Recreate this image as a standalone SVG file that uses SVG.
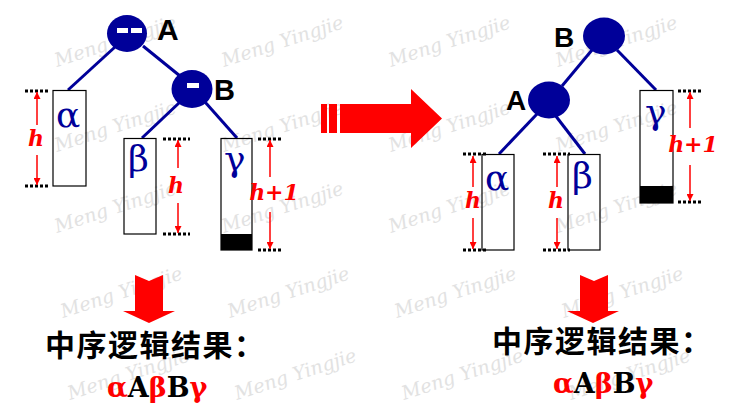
<svg xmlns="http://www.w3.org/2000/svg" width="742" height="414" viewBox="0 0 742 414">
<defs>
<marker id="ah" viewBox="0 0 10 10" refX="10" refY="5" markerUnits="userSpaceOnUse" markerWidth="7" markerHeight="7" orient="auto">
<path d="M0,0 L10,5 L0,10 z" fill="#ff0000"/>
</marker>
<style>
.wm{font-family:"DejaVu Serif","Liberation Serif",serif;font-style:italic;font-size:19px;fill:#e2e2e2}
.node{fill:#000099}
.edge{stroke:#000099;stroke-width:3;fill:none}
.box{fill:none;stroke:#000;stroke-width:1.2}
.dot{stroke:#000;stroke-width:3;stroke-dasharray:3 2;fill:none}
.harr{stroke:#ff0000;stroke-width:1.5;fill:none;marker-end:url(#ah)}
.lbl{font-family:"Liberation Sans",Arial,sans-serif;font-weight:bold;fill:#000}
.greek{font-family:"DejaVu Serif","Liberation Serif",serif;font-size:36px;fill:#000099}
.h{font-family:"DejaVu Serif","Liberation Serif",serif;font-style:italic;font-weight:bold;font-size:22px;fill:#ff0000}
.cn{font-family:"Noto Sans CJK SC",sans-serif;font-weight:bold;font-size:30px;fill:#000;letter-spacing:1.5px}
.seq{font-family:"DejaVu Serif","Liberation Serif",serif;font-weight:bold;font-size:27px}
.red{fill:#ff0000}
</style>
</defs>
<rect width="742" height="414" fill="#ffffff"/>

<g id="watermark">
<text class="wm" transform="translate(57,67) rotate(-18)">Meng Yingjie</text>
<text class="wm" transform="translate(224,67) rotate(-18)">Meng Yingjie</text>
<text class="wm" transform="translate(391,67) rotate(-18)">Meng Yingjie</text>
<text class="wm" transform="translate(558,67) rotate(-18)">Meng Yingjie</text>
<text class="wm" transform="translate(57,152) rotate(-18)">Meng Yingjie</text>
<text class="wm" transform="translate(224,152) rotate(-18)">Meng Yingjie</text>
<text class="wm" transform="translate(391,152) rotate(-18)">Meng Yingjie</text>
<text class="wm" transform="translate(558,152) rotate(-18)">Meng Yingjie</text>
<text class="wm" transform="translate(57,233) rotate(-18)">Meng Yingjie</text>
<text class="wm" transform="translate(224,233) rotate(-18)">Meng Yingjie</text>
<text class="wm" transform="translate(391,233) rotate(-18)">Meng Yingjie</text>
<text class="wm" transform="translate(558,233) rotate(-18)">Meng Yingjie</text>
<text class="wm" transform="translate(63,318) rotate(-18)">Meng Yingjie</text>
<text class="wm" transform="translate(230,318) rotate(-18)">Meng Yingjie</text>
<text class="wm" transform="translate(397,318) rotate(-18)">Meng Yingjie</text>
<text class="wm" transform="translate(564,318) rotate(-18)">Meng Yingjie</text>
<text class="wm" transform="translate(70,400) rotate(-18)">Meng Yingjie</text>
<text class="wm" transform="translate(237,400) rotate(-18)">Meng Yingjie</text>
<text class="wm" transform="translate(404,400) rotate(-18)">Meng Yingjie</text>
<text class="wm" transform="translate(571,400) rotate(-18)">Meng Yingjie</text>
</g>

<g id="connectors">
<line class="edge" x1="115" y1="47" x2="68" y2="90"/>
<line class="edge" x1="143" y1="46" x2="180" y2="76"/>
<line class="edge" x1="180" y1="102" x2="142" y2="138"/>
<line class="edge" x1="205" y1="102" x2="237" y2="138"/>
<line class="edge" x1="592" y1="50" x2="562" y2="86"/>
<line class="edge" x1="617" y1="50" x2="656" y2="90"/>
<line class="edge" x1="537" y1="114" x2="499" y2="154"/>
<line class="edge" x1="555" y1="115" x2="585" y2="154"/>
</g>

<!-- Left tree -->
<g id="left-A">
<ellipse class="node" cx="127" cy="33.5" rx="20" ry="18.5"/>
<rect x="117" y="28" width="11" height="5" fill="#fff"/>
<rect x="131" y="28" width="11" height="5" fill="#fff"/>
<text class="lbl" x="157" y="40" font-size="30">A</text>
</g>
<g id="left-B">
<ellipse class="node" cx="192" cy="89" rx="20.5" ry="19"/>
<rect x="187" y="83" width="12" height="5" fill="#fff"/>
<text class="lbl" x="214" y="100" font-size="29">B</text>
</g>
<g id="left-alpha">
<rect class="box" x="53" y="90.5" width="33" height="95.5"/>
<text class="greek" x="56" y="127">α</text>
<line class="dot" x1="25" y1="91" x2="50" y2="91"/>
<line class="dot" x1="25" y1="186" x2="50" y2="186"/>
<line class="harr" x1="37" y1="125" x2="37" y2="92"/>
<line class="harr" x1="37" y1="155" x2="37" y2="185"/>
<text class="h" x="36" y="146" text-anchor="middle">h</text>
</g>
<g id="left-beta">
<rect class="box" x="124" y="138.5" width="32" height="95.5"/>
<text class="greek" x="128" y="171">β</text>
<line class="dot" x1="163" y1="139" x2="190" y2="139"/>
<line class="dot" x1="163" y1="234" x2="190" y2="234"/>
<line class="harr" x1="178" y1="168" x2="178" y2="140"/>
<line class="harr" x1="178" y1="203" x2="178" y2="233"/>
<text class="h" x="176" y="193" text-anchor="middle">h</text>
</g>
<g id="left-gamma">
<rect class="box" x="221" y="138.5" width="31" height="111.5"/>
<rect x="221" y="234" width="31" height="16" fill="#000"/>
<text class="greek" x="224" y="171">γ</text>
<line class="dot" x1="258" y1="139" x2="283" y2="139"/>
<line class="dot" x1="258" y1="250" x2="283" y2="250"/>
<line class="harr" x1="270" y1="177" x2="270" y2="140"/>
<line class="harr" x1="270" y1="212" x2="270" y2="249"/>
<text class="h" x="274" y="200" text-anchor="middle">h+1</text>
</g>

<!-- Transform arrow -->
<g id="transform-arrow" fill="#ff0000">
<rect x="321" y="104" width="6" height="29"/>
<rect x="329" y="104" width="8" height="29"/>
<path d="M340,104 L411,104 L411,89 L442,118.5 L411,148 L411,133 L340,133 Z"/>
</g>

<!-- Right tree -->
<g id="right-B">
<ellipse class="node" cx="604" cy="36" rx="21" ry="18.5"/>
<text class="lbl" x="554" y="47" font-size="28">B</text>
</g>
<g id="right-A">
<ellipse class="node" cx="549" cy="100" rx="21" ry="18.5"/>
<text class="lbl" x="506" y="110" font-size="28">A</text>
</g>
<g id="right-alpha">
<rect class="box" x="482" y="154.5" width="32" height="95.5"/>
<text class="greek" x="485" y="190">α</text>
<line class="dot" x1="463" y1="154" x2="488" y2="154"/>
<line class="dot" x1="463" y1="250" x2="488" y2="250"/>
<line class="harr" x1="473" y1="187" x2="473" y2="156"/>
<line class="harr" x1="473" y1="218" x2="473" y2="249"/>
<text class="h" x="473" y="208" text-anchor="middle">h</text>
</g>
<g id="right-beta">
<rect class="box" x="568" y="154.5" width="32" height="95.5"/>
<text class="greek" x="572" y="188">β</text>
<line class="dot" x1="543" y1="154" x2="570" y2="154"/>
<line class="dot" x1="543" y1="250" x2="570" y2="250"/>
<line class="harr" x1="557" y1="187" x2="557" y2="156"/>
<line class="harr" x1="557" y1="218" x2="557" y2="249"/>
<text class="h" x="556" y="208" text-anchor="middle">h</text>
</g>
<g id="right-gamma">
<rect class="box" x="640" y="90.5" width="33" height="112.5"/>
<rect x="640" y="186" width="33" height="17" fill="#000"/>
<text class="greek" x="645" y="124">γ</text>
<line class="dot" x1="678" y1="91" x2="703" y2="91"/>
<line class="dot" x1="678" y1="202" x2="703" y2="202"/>
<line class="harr" x1="690" y1="128" x2="690" y2="92"/>
<line class="harr" x1="690" y1="165" x2="690" y2="201"/>
<text class="h" x="693" y="152" text-anchor="middle">h+1</text>
</g>

<!-- Bottom -->
<g id="left-result">
<path d="M135,275 L149,281 L163,275 L163,311 L175,311 L149,323 L123,311 L135,311 Z" fill="#ff0000"/>
<text class="cn" x="45" y="356">中序逻辑结果：</text>
<text class="seq" x="107" y="397"><tspan class="red">α</tspan>A<tspan class="red">β</tspan>B<tspan class="red">γ</tspan></text>
</g>
<g id="right-result">
<path d="M580,275 L594,281 L608,275 L608,311 L619,311 L593,323 L567,311 L580,311 Z" fill="#ff0000"/>
<text class="cn" x="492" y="352">中序逻辑结果：</text>
<text class="seq" x="553" y="393"><tspan class="red">α</tspan>A<tspan class="red">β</tspan>B<tspan class="red">γ</tspan></text>
</g>
</svg>
